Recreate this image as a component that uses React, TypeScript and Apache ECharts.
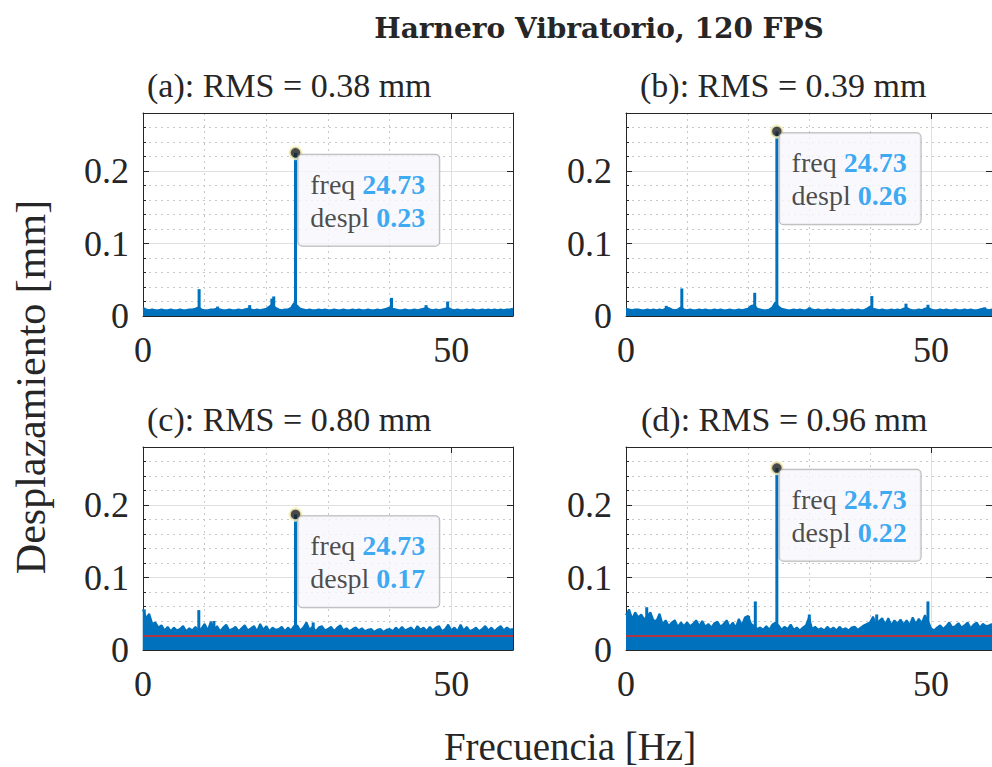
import React, { useEffect, useRef } from "react";
import * as echarts from "echarts";

// ---------- data ----------
const STEP_HZ = 0.5; // spacing of the sampled envelope values below (0 .. 60 Hz)

const envA = [
  0.011, 0.009, 0.008, 0.009, 0.008, 0.008, 0.009, 0.008, 0.008, 0.009,
  0.008, 0.008, 0.009, 0.008, 0.008, 0.009, 0.009, 0.010, 0.012, 0.009,
  0.008, 0.008, 0.009, 0.009, 0.010, 0.009, 0.008, 0.008, 0.009, 0.008,
  0.008, 0.009, 0.008, 0.009, 0.010, 0.009, 0.008, 0.009, 0.008, 0.009,
  0.010, 0.013, 0.016, 0.011, 0.009, 0.008, 0.009, 0.009, 0.011, 0.018,
  0.014, 0.010, 0.009, 0.008, 0.009, 0.008, 0.008, 0.009, 0.008, 0.009,
  0.008, 0.008, 0.009, 0.008, 0.008, 0.009, 0.008, 0.008, 0.009, 0.008,
  0.009, 0.008, 0.008, 0.009, 0.008, 0.008, 0.009, 0.008, 0.009, 0.010,
  0.012, 0.010, 0.009, 0.008, 0.008, 0.009, 0.008, 0.008, 0.009, 0.008,
  0.009, 0.010, 0.011, 0.009, 0.008, 0.009, 0.008, 0.009, 0.010, 0.011,
  0.009, 0.008, 0.009, 0.008, 0.008, 0.009, 0.008, 0.009, 0.008, 0.008,
  0.009, 0.008, 0.009, 0.008, 0.009, 0.008, 0.009, 0.008, 0.009, 0.009,
  0.010,
];
const envB = [
  0.010, 0.009, 0.008, 0.009, 0.009, 0.008, 0.008, 0.009, 0.008, 0.009,
  0.008, 0.009, 0.008, 0.010, 0.011, 0.009, 0.008, 0.009, 0.012, 0.009,
  0.008, 0.009, 0.008, 0.008, 0.009, 0.008, 0.009, 0.008, 0.008, 0.009,
  0.008, 0.009, 0.008, 0.008, 0.009, 0.008, 0.008, 0.009, 0.008, 0.009,
  0.010, 0.014, 0.015, 0.010, 0.009, 0.008, 0.008, 0.009, 0.012, 0.019,
  0.013, 0.010, 0.009, 0.008, 0.008, 0.009, 0.008, 0.009, 0.008, 0.008,
  0.010, 0.009, 0.008, 0.009, 0.008, 0.008, 0.009, 0.008, 0.009, 0.008,
  0.008, 0.009, 0.008, 0.008, 0.009, 0.008, 0.009, 0.008, 0.008, 0.010,
  0.013, 0.010, 0.009, 0.008, 0.009, 0.008, 0.008, 0.009, 0.008, 0.009,
  0.008, 0.010, 0.011, 0.009, 0.008, 0.008, 0.009, 0.008, 0.010, 0.011,
  0.009, 0.008, 0.008, 0.009, 0.008, 0.009, 0.008, 0.008, 0.009, 0.008,
  0.008, 0.009, 0.008, 0.009, 0.008, 0.008, 0.009, 0.010, 0.009, 0.008,
  0.009,
];
const envC = [
  0.056, 0.044, 0.050, 0.036, 0.038, 0.031, 0.034, 0.027, 0.032, 0.026,
  0.031, 0.027, 0.029, 0.033, 0.026, 0.030, 0.027, 0.032, 0.026, 0.030,
  0.036, 0.027, 0.039, 0.028, 0.033, 0.026, 0.031, 0.035, 0.027, 0.029,
  0.032, 0.026, 0.030, 0.034, 0.027, 0.030, 0.033, 0.026, 0.036, 0.028,
  0.033, 0.026, 0.031, 0.028, 0.029, 0.032, 0.026, 0.031, 0.027, 0.033,
  0.034, 0.027, 0.031, 0.038, 0.028, 0.032, 0.026, 0.031, 0.033, 0.027,
  0.029, 0.032, 0.026, 0.031, 0.034, 0.027, 0.030, 0.026, 0.029, 0.031,
  0.027, 0.030, 0.026, 0.028, 0.029, 0.025, 0.028, 0.029, 0.025, 0.028,
  0.029, 0.026, 0.031, 0.027, 0.032, 0.027, 0.029, 0.031, 0.026, 0.033,
  0.028, 0.031, 0.026, 0.032, 0.027, 0.031, 0.033, 0.026, 0.029, 0.035,
  0.027, 0.031, 0.026, 0.035, 0.027, 0.032, 0.026, 0.028, 0.031, 0.026,
  0.029, 0.033, 0.027, 0.031, 0.026, 0.030, 0.033, 0.027, 0.031, 0.028,
  0.029,
];
const envD = [
  0.048, 0.056, 0.043, 0.052, 0.045, 0.049, 0.042, 0.047, 0.052, 0.041,
  0.040, 0.050, 0.035, 0.041, 0.033, 0.038, 0.041, 0.032, 0.038, 0.033,
  0.038, 0.033, 0.036, 0.041, 0.033, 0.040, 0.032, 0.036, 0.031, 0.037,
  0.039, 0.032, 0.036, 0.041, 0.032, 0.038, 0.031, 0.043, 0.034, 0.045,
  0.047, 0.036, 0.033, 0.029, 0.031, 0.028, 0.033, 0.028, 0.035, 0.038,
  0.034, 0.028, 0.032, 0.029, 0.035, 0.028, 0.031, 0.027, 0.031, 0.034,
  0.045, 0.029, 0.032, 0.028, 0.030, 0.027, 0.032, 0.028, 0.031, 0.027,
  0.032, 0.028, 0.030, 0.027, 0.031, 0.032, 0.028, 0.031, 0.034, 0.036,
  0.038, 0.046, 0.034, 0.040, 0.044, 0.035, 0.044, 0.034, 0.041, 0.036,
  0.042, 0.035, 0.041, 0.034, 0.045, 0.036, 0.043, 0.037, 0.048, 0.040,
  0.030, 0.027, 0.031, 0.034, 0.029, 0.033, 0.038, 0.031, 0.033, 0.037,
  0.031, 0.034, 0.038, 0.030, 0.035, 0.038, 0.031, 0.036, 0.033, 0.034,
  0.036,
];

// narrow spectral lines [frequency Hz, amplitude mm]
const spikesA = [
  [9.1, 0.037], [12.1, 0.013], [17.3, 0.015], [20.9, 0.024], [21.2, 0.027],
  [24.73, 0.225], [40.3, 0.025], [45.9, 0.015], [49.4, 0.02],
];
const spikesB = [
  [6.6, 0.014], [9.15, 0.038], [21.1, 0.032], [24.73, 0.2545], [30.1, 0.012],
  [40.3, 0.0275], [45.9, 0.017], [49.5, 0.0155], [58.8, 0.012],
];
const spikesC = [[0.2, 0.056], [9.05, 0.055], [11.5, 0.04], [24.73, 0.187], [27.6, 0.038]];
const spikesD = [
  [3.4, 0.059], [20.1, 0.047], [21.2, 0.067], [24.73, 0.251], [30.05, 0.049],
  [41.1, 0.049], [49.5, 0.067],
];

const envelopes = [envA, envB, envC, envD];
const spikes = [spikesA, spikesB, spikesC, spikesD];
const peakFreq = [24.73, 24.73, 24.73, 24.73];
const peakAmp = [0.225, 0.2545, 0.187, 0.251];
const tipFreqText = ["24.73", "24.73", "24.73", "24.73"];
const tipDesplText = ["0.23", "0.26", "0.17", "0.22"];
const thresholds = [null, null, 0.019, 0.022];
const panelTitles = [
  "(a): RMS = 0.38 mm",
  "(b): RMS = 0.39 mm",
  "(c): RMS = 0.80 mm",
  "(d): RMS = 0.96 mm",
];
const mainTitle = "Harnero Vibratorio, 120 FPS";
const xTitle = "Frecuencia [Hz]";
const yTitle = "Desplazamiento [mm]";
const X_MIN = 0, X_MAX = 60, X_INTERVAL = 50;
const Y_MIN = 0, Y_MAX = 0.28, Y_INTERVAL = 0.1;

// ---------- layout / style ----------
const gridBoxes = [
  { left: 143, top: 113, width: 370, height: 203 },
  { left: 626, top: 113, width: 370, height: 203 },
  { left: 143, top: 447, width: 370, height: 203 },
  { left: 626, top: 447, width: 370, height: 203 },
];
const titlePos = [
  { x: 147, y: 85 },
  { x: 640, y: 85 },
  { x: 147, y: 419 },
  { x: 641, y: 419 },
];
const SERIF = "'Liberation Serif', 'Times New Roman', serif";
const BLUE = "#0072BD";
const AXIS = "#262626";

export default function App() {
  const ref = useRef<HTMLDivElement>(null);

  useEffect(() => {
    if (!ref.current) return;
    const chart = echarts.init(ref.current, undefined, { renderer: "svg" });

    const grid = gridBoxes.map((g) => ({ ...g, containLabel: false }));
    const xAxis: any[] = [];
    const yAxis: any[] = [];
    gridBoxes.forEach((_, i) => {
      xAxis.push({
        type: "value",
        gridIndex: i,
        min: X_MIN,
        max: X_MAX,
        interval: X_INTERVAL,
        axisLine: { show: true, onZero: false, lineStyle: { color: AXIS, width: 1 } },
        axisTick: { show: true, inside: true, length: 6, lineStyle: { color: AXIS } },
        minorTick: { show: true, splitNumber: 5, length: 3, lineStyle: { color: AXIS } },
        axisLabel: {
          show: true,
          showMaxLabel: false,
          margin: 16,
          fontFamily: SERIF,
          fontSize: 36,
          color: AXIS,
        },
        splitLine: { show: true, lineStyle: { color: "#e0e0e0", width: 1 } },
        minorSplitLine: { show: true, lineStyle: { color: "#c8c8c8", width: 1, type: [2, 4] } },
      });
      yAxis.push({
        type: "value",
        gridIndex: i,
        min: Y_MIN,
        max: Y_MAX,
        interval: Y_INTERVAL,
        axisLine: { show: true, onZero: false, lineStyle: { color: AXIS, width: 1 } },
        axisTick: { show: true, inside: true, length: 6, lineStyle: { color: AXIS } },
        minorTick: { show: true, splitNumber: 5, length: 3, lineStyle: { color: AXIS } },
        axisLabel: {
          show: true,
          showMaxLabel: false,
          margin: 14,
          fontFamily: SERIF,
          fontSize: 36,
          color: AXIS,
        },
        splitLine: { show: true, lineStyle: { color: "#e0e0e0", width: 1 } },
        minorSplitLine: { show: true, lineStyle: { color: "#c8c8c8", width: 1, type: [2, 4] } },
      });
    });
    // box: top and right axes
    gridBoxes.forEach((_, i) => {
      xAxis.push({
        type: "value",
        gridIndex: i,
        position: "top",
        min: X_MIN,
        max: X_MAX,
        interval: X_INTERVAL,
        axisLine: { show: true, onZero: false, lineStyle: { color: AXIS, width: 1 } },
        axisTick: { show: true, inside: true, length: 6, lineStyle: { color: AXIS } },
        axisLabel: { show: false },
        splitLine: { show: false },
      });
      yAxis.push({
        type: "value",
        gridIndex: i,
        position: "right",
        min: Y_MIN,
        max: Y_MAX,
        interval: Y_INTERVAL,
        axisLine: { show: true, onZero: false, lineStyle: { color: AXIS, width: 1 } },
        axisTick: { show: true, inside: true, length: 6, lineStyle: { color: AXIS } },
        axisLabel: { show: false },
        splitLine: { show: false },
      });
    });

    const series: any[] = [];
    gridBoxes.forEach((_, i) => {
      series.push({
        type: "line",
        xAxisIndex: i,
        yAxisIndex: i,
        data: envelopes[i].map((v, k) => [k * STEP_HZ, v]),
        showSymbol: false,
        symbol: "none",
        lineStyle: { color: BLUE, width: 2 },
        areaStyle: { color: BLUE, opacity: 1 },
        z: 2,
        silent: true,
      });
      series.push({
        type: "bar",
        xAxisIndex: i,
        yAxisIndex: i,
        data: spikes[i],
        barWidth: 3,
        itemStyle: { color: BLUE },
        z: 3,
        silent: true,
      });
      const level = thresholds[i];
      if (level !== null) {
        series.push({
          type: "line",
          xAxisIndex: i,
          yAxisIndex: i,
          data: [],
          z: 4,
          silent: true,
          markLine: {
            silent: true,
            symbol: "none",
            label: { show: false },
            lineStyle: { color: "#e3241b", width: 1.5, type: "solid" },
            data: [{ yAxis: level }],
          },
        });
      }
      series.push({
        type: "scatter",
        xAxisIndex: i,
        yAxisIndex: i,
        data: [[peakFreq[i], peakAmp[i]]],
        symbol: "circle",
        symbolSize: 12,
        itemStyle: { color: "#1c1c1c", borderColor: "#fdf8c4", borderWidth: 2.5 },
        z: 10,
        silent: true,
        label: {
          show: true,
          position: [10, 9],
          align: "left",
          verticalAlign: "top",
          formatter: `{k|freq\u00a0}{v|${tipFreqText[i]}}\n{k|despl\u00a0}{v|${tipDesplText[i]}}`,
          backgroundColor: "#f8f8fd",
          borderColor: "#a3a3a3",
          borderWidth: 1,
          borderRadius: 4,
          padding: [13, 10, 12, 12],
          width: 119,
          rich: {
            k: { fontFamily: SERIF, fontSize: 28, color: "#1e1e1e", lineHeight: 33 },
            v: { fontFamily: SERIF, fontSize: 28, fontWeight: "bold", color: "#0a94f0", lineHeight: 33 },
          },
        },
      });
    });

    const graphic: any[] = [
      {
        type: "text",
        x: 599,
        y: 28,
        style: {
          text: mainTitle,
          font: "bold 28px 'DejaVu Serif', serif",
          fill: AXIS,
          textAlign: "center",
          textVerticalAlign: "middle",
        },
      },
      {
        type: "text",
        x: 570,
        y: 746,
        style: {
          text: xTitle,
          font: `39px ${SERIF}`,
          fill: AXIS,
          textAlign: "center",
          textVerticalAlign: "middle",
        },
      },
      {
        type: "text",
        x: 31,
        y: 387,
        rotation: Math.PI / 2,
        style: {
          text: yTitle,
          font: `42px ${SERIF}`,
          fill: AXIS,
          textAlign: "center",
          textVerticalAlign: "middle",
        },
      },
      ...panelTitles.map((t, i) => ({
        type: "text",
        x: titlePos[i].x,
        y: titlePos[i].y,
        style: {
          text: t,
          font: `34px ${SERIF}`,
          fill: AXIS,
          textAlign: "left",
          textVerticalAlign: "middle",
        },
      })),
    ];

    chart.setOption({
      animation: false,
      backgroundColor: "#ffffff",
      textStyle: { fontFamily: SERIF },
      grid,
      xAxis,
      yAxis,
      series,
      graphic,
    });

    return () => chart.dispose();
  }, []);

  return (
    <div
      ref={ref}
      style={{ position: "fixed", left: 0, top: 0, width: 992, height: 767 }}
    />
  );
}
